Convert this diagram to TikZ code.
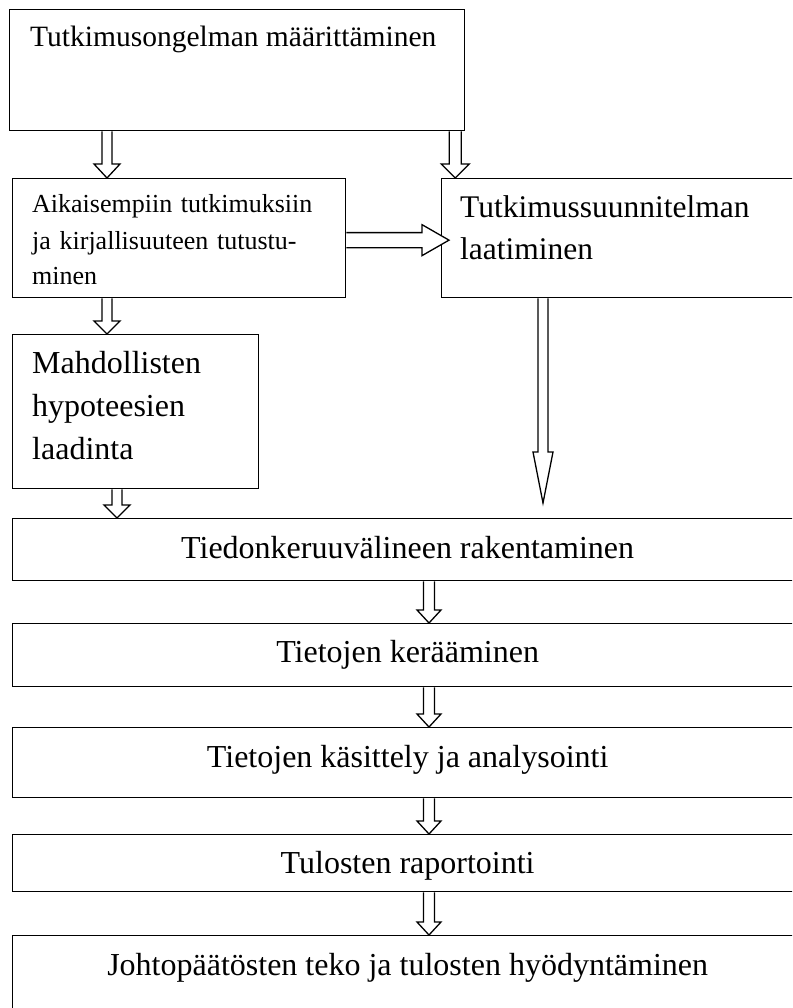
\documentclass[tikz,border=0pt]{standalone}
\usepackage{fontspec}
\setmainfont{Liberation Serif}
\usetikzlibrary{calc,positioning}

\tikzset{
  box/.style={draw, line width=1.3pt, anchor=north west, inner sep=0pt},
  lbl/.style={anchor=base west, inner sep=0pt, align=left},
  mid/.style={anchor=base, inner sep=0pt, font=\fontsize{32pt}{38pt}\selectfont},
  arr/.style={draw, line width=1.3pt, fill=white, line join=miter},
}

% hollow block arrow down: from, to, shaft half width, head half width, head length
\newcommand{\downarr}[5]{%
  \draw[arr] let \p1=(#1), \p2=(#2) in
    (\x1-#3,\y1) -- (\x1-#3,\y2+#5) -- (\x1-#4,\y2+#5) -- (\x1,\y2)
    -- (\x1+#4,\y2+#5) -- (\x1+#3,\y2+#5) -- (\x1+#3,\y1);
}
% same, pointing right
\newcommand{\rightarr}[5]{%
  \draw[arr] let \p1=(#1), \p2=(#2) in
    (\x1,\y1+#3) -- (\x2-#5,\y1+#3) -- (\x2-#5,\y1+#4) -- (\x2,\y1)
    -- (\x2-#5,\y1-#4) -- (\x2-#5,\y1-#3) -- (\x1,\y1-#3);
}

\begin{document}
\begin{tikzpicture}[x=1pt, y=-1pt]
    \useasboundingbox (0,0) rectangle (792,1008);
    \clip (0,0) rectangle (792,1008);

    % upper part
    \node [box, minimum width=455pt, minimum height=121pt] (prob) at (9,9) {};
    \node [lbl, font=\fontsize{29.5pt}{36pt}\selectfont] (probtxt)
        at ([xshift=21pt, yshift=-38pt]prob.north west) {Tutkimusongelman määrittäminen};

    \node [box, minimum width=333pt, minimum height=119pt] (lit) at (12,178) {};
    \node [lbl, text width=310pt, font=\fontsize{26pt}{36pt}\selectfont] (littxt)
        at ([xshift=20pt, yshift=-35pt]lit.north west)
        {Aikaisempiin tutkimuksiin\\ja kirjallisuuteen tutustu-\\minen};

    \node [box, minimum width=400pt, minimum height=119pt] (plan) at (441,178) {};
    \node [lbl, text width=320pt, font=\fontsize{31.5pt}{42pt}\selectfont] (plantxt)
        at ([xshift=19pt, yshift=-40pt]plan.north west)
        {Tutkimussuunnitelman\\laatiminen};

    \node [box, minimum width=246pt, minimum height=154pt] (hyp) at (12,334) {};
    \node [lbl, text width=220pt, font=\fontsize{32pt}{43pt}\selectfont] (hyptxt)
        at ([xshift=20pt, yshift=-39pt]hyp.north west)
        {Mahdollisten\\hypoteesien\\laadinta};

    % lower chain
    \node [box, minimum width=790pt, minimum height=62pt] (tool) at (12,518) {};
    \node [mid] (tooltxt) at ([yshift=-40pt]tool.north) {Tiedonkeruuvälineen rakentaminen};

    \node [box, minimum width=790pt, minimum height=63pt] (coll) at (12,623) {};
    \node [mid] (colltxt) at ([yshift=-39pt]coll.north) {Tietojen kerääminen};

    \node [box, minimum width=790pt, minimum height=70pt] (anal) at (12,727) {};
    \node [mid] (analtxt) at ([yshift=-40pt]anal.north) {Tietojen käsittely ja analysointi};

    \node [box, minimum width=790pt, minimum height=57pt] (rep) at (12,834) {};
    \node [mid] (reptxt) at ([yshift=-39pt]rep.north) {Tulosten raportointi};

    \node [box, minimum width=790pt, minimum height=110pt] (concl) at (12,935) {};
    \node [mid] (concltxt) at ([yshift=-40pt]concl.north) {Johtopäätösten teko ja tulosten hyödyntäminen};

    % block arrows
    \downarr{[xshift=98pt]prob.south west}{lit.north}{5pt}{13pt}{14pt}
    \downarr{[xshift=-10pt]prob.south east}{plan.north}{6pt}{14pt}{14pt}
    \downarr{[xshift=95pt]lit.south west}{hyp.north}{5pt}{13pt}{13pt}
    \downarr{[xshift=105pt]hyp.south west}{tool.north}{5pt}{13pt}{13pt}
    \downarr{[xshift=102pt]plan.south west}{[yshift=15pt]tool.north}{5pt}{10pt}{51pt}
    \rightarr{[yshift=-2pt]lit.east}{[xshift=8pt]plan.west}{7.5pt}{15.5pt}{27pt}

    \foreach \a/\b in {tool/coll, coll/anal, anal/rep, rep/concl}
        \downarr{[xshift=417pt]\a.south west}{\b.north}{5.5pt}{12pt}{13pt};
\end{tikzpicture}
\end{document}
